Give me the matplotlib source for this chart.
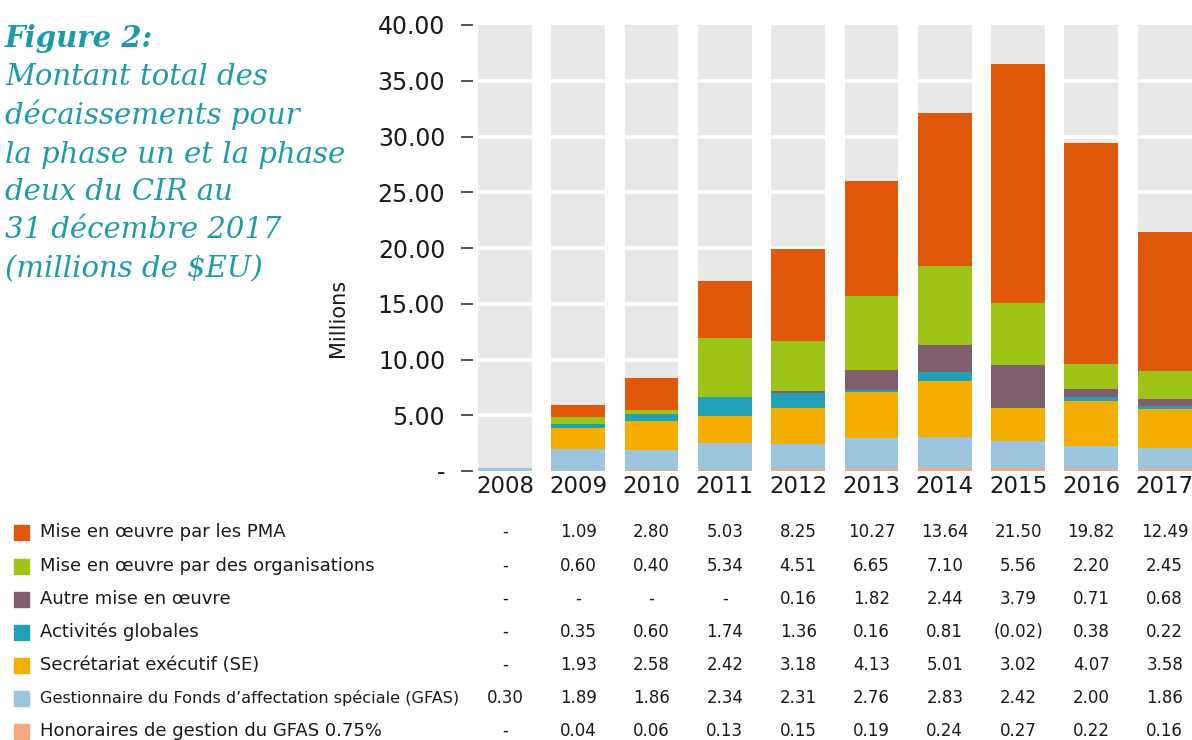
import matplotlib
matplotlib.use("Agg")
import matplotlib.pyplot as plt
import matplotlib.transforms as mtransforms
import numpy as np

# ----------------------------
# Data (millions $EU)
# ----------------------------
years = ["2008", "2009", "2010", "2011", "2012", "2013", "2014", "2015", "2016", "2017"]

honoraires = [0.00, 0.04, 0.06, 0.13, 0.15, 0.19, 0.24, 0.27, 0.22, 0.16]
gfas = [0.30, 1.89, 1.86, 2.34, 2.31, 2.76, 2.83, 2.42, 2.00, 1.86]
secretariat = [0.00, 1.93, 2.58, 2.42, 3.18, 4.13, 5.01, 3.02, 4.07, 3.58]
globales = [0.00, 0.35, 0.60, 1.74, 1.36, 0.16, 0.81, -0.02, 0.38, 0.22]
autre = [0.00, 0.00, 0.00, 0.00, 0.16, 1.82, 2.44, 3.79, 0.71, 0.68]
organisations = [0.00, 0.60, 0.40, 5.34, 4.51, 6.65, 7.10, 5.56, 2.20, 2.45]
pma = [0.00, 1.09, 2.80, 5.03, 8.25, 10.27, 13.64, 21.50, 19.82, 12.49]

series_labels = [
    "Mise en œuvre par les PMA",
    "Mise en œuvre par des organisations",
    "Autre mise en œuvre",
    "Activités globales",
    "Secrétariat exécutif (SE)",
    "Gestionnaire du Fonds d’affectation spéciale (GFAS)",
    "Honoraires de gestion du GFAS 0.75%",
]
series_values = [pma, organisations, autre, globales, secretariat, gfas, honoraires]
series_colors = ["#E0580A", "#9DC416", "#7F5E6E", "#22A0B5", "#F3AE00", "#9DC5DD", "#F4AA80"]

yticks = [0, 5, 10, 15, 20, 25, 30, 35, 40]

title_lines = [
    "Montant total des",
    "décaissements pour",
    "la phase un et la phase",
    "deux du CIR au",
    "31 décembre 2017",
    "(millions de $EU)",
]

TEAL = "#1E9BAA"
GREY_BG = "#E8E8E8"
SANS = ["DejaVu Sans"]


def fmt_value(v):
    if v == 0:
        return "-"
    if v < 0:
        return f"({abs(v):.2f})"
    return f"{v:.2f}"


# ----------------------------
# Figure
# ----------------------------
W, H = 1192, 740
fig = plt.figure(figsize=(W / 100, H / 100), dpi=100)
ax = fig.add_axes([473 / W, (H - 471) / H, 718.6 / W, 446 / H])

x = np.arange(len(years))
bw = 0.735

# grey background bars and white gridlines
ax.bar(x, [40] * len(years), width=bw, color=GREY_BG, zorder=1)
for t in yticks[1:-1]:
    ax.axhline(t, color="white", lw=2.6, zorder=2)

# stacked bars, bottom to top
bottom = np.zeros(len(years))
for vals, col in zip(series_values[::-1], series_colors[::-1]):
    vals = np.array(vals)
    ax.bar(x, vals, width=bw, bottom=bottom, color=col, zorder=3, linewidth=0)
    bottom = bottom + vals

ax.set_xlim(-0.436, 9.3675)
ax.set_ylim(0, 40)
ax.set_yticks(yticks)
ax.set_yticklabels(["-" if t == 0 else f"{t:.2f}" for t in yticks],
                   fontsize=17, family=SANS, color="#1a1a1a")
ax.tick_params(axis="y", length=9, width=1.4, color="#555555", pad=11)
ax.set_xticks(x)
ax.set_xticklabels(years, fontsize=16.5, family=SANS, color="#1a1a1a")
ax.tick_params(axis="x", length=0, pad=3)
for sp in ax.spines.values():
    sp.set_visible(False)

fig.text(338 / W, 1 - 318 / H, "Millions", rotation=90, ha="center", va="center",
         fontsize=15, family=SANS, color="#1a1a1a")

# ----------------------------
# Title
# ----------------------------
fig.text(5 / W, 1 - 47 / H, "Figure 2:", fontsize=21, family="DejaVu Serif",
         style="italic", weight="bold", color=TEAL, va="baseline")
baselines = [85, 124, 163, 200, 238, 277]
for line, yb in zip(title_lines, baselines):
    fig.text(5 / W, 1 - yb / H, line, fontsize=21, family="DejaVu Serif",
             style="italic", color=TEAL, va="baseline")

# ----------------------------
# Table below chart
# ----------------------------
trans = mtransforms.blended_transform_factory(ax.transData, fig.transFigure)
row_y = [532, 566, 599, 632, 665, 698, 731]
for lab, vals, col, yy in zip(series_labels, series_values, series_colors, row_y):
    yf = 1 - yy / H
    fig.patches.append(plt.Rectangle((14 / W, yf - 7.5 / H), 15 / W, 15 / H,
                                     transform=fig.transFigure, color=col, figure=fig))
    fs = 13 if "GFAS)" not in lab else 11.6
    fig.text(40 / W, yf, lab, fontsize=fs, family=SANS, color="#1a1a1a", va="center")
    for xi, v in zip(x, vals):
        ax.text(xi, yf, fmt_value(v), transform=trans, ha="center", va="center",
                fontsize=12, family=SANS, color="#1a1a1a")

fig.savefig("out.png", dpi=100)
